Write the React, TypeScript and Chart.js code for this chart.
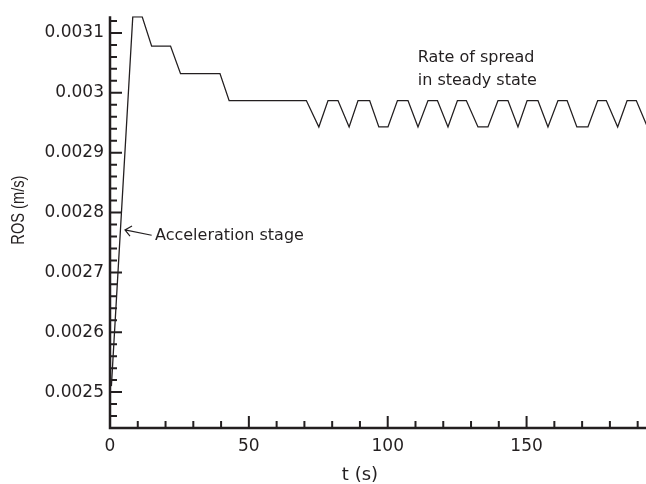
import React, { useEffect, useRef } from "react";
import { Chart, registerables } from "chart.js";

Chart.register(...registerables);

// ---- data ----
const timeS: number[] = [
  0.5, 8.2, 11.6, 15.0, 21.8, 25.4, 39.6, 42.9,
  70.7, 75.2, 78.5, 82.1, 86.1, 89.3, 93.5, 96.8, 100.1, 103.5,
  107.3, 110.9, 114.5, 117.9, 121.7, 125.1, 128.3, 132.5, 136.1, 139.7,
  143.3, 146.9, 150.2, 154.1, 157.7, 161.3, 164.6, 168.1, 172.1, 175.6,
  178.7, 182.8, 186.2, 189.5, 193.5,
];
const rosMs: number[] = [
  0.00251, 0.003127, 0.003127, 0.003078, 0.003078, 0.003032, 0.003032, 0.002987,
  0.002987, 0.002943, 0.002987, 0.002987, 0.002943, 0.002987, 0.002987, 0.002943, 0.002943, 0.002987,
  0.002987, 0.002943, 0.002987, 0.002987, 0.002943, 0.002987, 0.002987, 0.002943, 0.002943, 0.002987,
  0.002987, 0.002943, 0.002987, 0.002987, 0.002943, 0.002987, 0.002987, 0.002943, 0.002943, 0.002987,
  0.002987, 0.002943, 0.002987, 0.002987, 0.002943,
];
const xTickValues: number[] = [0, 50, 100, 150];
const yTickValues: number[] = [0.0025, 0.0026, 0.0027, 0.0028, 0.0029, 0.003, 0.0031];
const xMinorStep = 10;
const yMinorStep = 0.00002;
const xRange = [0, 193];
const yRange = [0.00244, 0.003128];

const xTitle = "t (s)";
const yTitle = "ROS (m/s)";
const steadyLabel = ["Rate of spread", "in steady state"];
const steadyLabelPos = { t: 110.8, v: [0.0030517, 0.0030133] };
const accelLabel = "Acceleration stage";
const accelArrow = { tipT: 5.4, tipV: 0.002771, tailT: 15.0, tailV: 0.002762, textT: 16.2, textV: 0.002754 };

const INK = "#231f20";
const SANS = "'DejaVu Sans', sans-serif";

const decorPlugin = {
  id: "decor",
  afterDraw(chart: any) {
    const ctx: CanvasRenderingContext2D = chart.ctx;
    const xs = chart.scales.x;
    const ys = chart.scales.y;
    const { left, right, top, bottom } = chart.chartArea;
    ctx.save();
    ctx.strokeStyle = INK;
    ctx.fillStyle = INK;
    ctx.lineCap = "butt";

    // axis lines
    ctx.lineWidth = 2.5;
    ctx.beginPath();
    ctx.moveTo(left, top);
    ctx.lineTo(left, bottom);
    ctx.lineTo(right, bottom);
    ctx.stroke();

    // inward ticks
    ctx.lineWidth = 2;
    ctx.beginPath();
    for (let k = 0; k * xMinorStep <= xs.max; k++) {
      const v = k * xMinorStep;
      const px = xs.getPixelForValue(v);
      const len = xTickValues.includes(v) ? 12 : 7;
      ctx.moveTo(px, bottom);
      ctx.lineTo(px, bottom - len);
    }
    const kStart = Math.ceil(ys.min / yMinorStep - 1e-6);
    const kEnd = Math.floor(ys.max / yMinorStep + 1e-6);
    for (let k = kStart; k <= kEnd; k++) {
      const v = k * yMinorStep;
      const py = ys.getPixelForValue(v);
      const len = k % 5 === 0 ? 12 : 7;
      ctx.moveTo(left, py);
      ctx.lineTo(left + len, py);
    }
    ctx.stroke();

    // axis titles
    ctx.font = `18px ${SANS}`;
    ctx.textAlign = "center";
    ctx.textBaseline = "middle";
    ctx.fillText(xTitle, xs.getPixelForValue(90), 475);

    ctx.save();
    ctx.translate(19, ys.getPixelForValue(0.002804));
    ctx.rotate(-Math.PI / 2);
    ctx.font = `18px 'Liberation Sans', Arial, sans-serif`;
    const w = ctx.measureText(yTitle).width;
    ctx.scale(69 / w, 1);
    ctx.fillText(yTitle, 0, 0);
    ctx.restore();

    // steady state annotation
    ctx.font = `16px ${SANS}`;
    ctx.textAlign = "left";
    ctx.textBaseline = "alphabetic";
    steadyLabel.forEach((s, i) => {
      ctx.fillText(s, xs.getPixelForValue(steadyLabelPos.t), ys.getPixelForValue(steadyLabelPos.v[i]));
    });

    // acceleration annotation
    ctx.fillText(accelLabel, xs.getPixelForValue(accelArrow.textT), ys.getPixelForValue(accelArrow.textV));
    const tx = xs.getPixelForValue(accelArrow.tipT);
    const ty = ys.getPixelForValue(accelArrow.tipV);
    const ex = xs.getPixelForValue(accelArrow.tailT);
    const ey = ys.getPixelForValue(accelArrow.tailV);
    const ang = Math.atan2(ey - ty, ex - tx);
    ctx.lineWidth = 1.2;
    ctx.beginPath();
    ctx.moveTo(ex, ey);
    ctx.lineTo(tx, ty);
    const bl = 8;
    ctx.moveTo(tx + bl * Math.cos(ang - 0.7), ty + bl * Math.sin(ang - 0.7));
    ctx.lineTo(tx, ty);
    ctx.lineTo(tx + bl * Math.cos(ang + 0.7), ty + bl * Math.sin(ang + 0.7));
    ctx.stroke();

    ctx.restore();
  },
};

export default function App() {
  const ref = useRef<HTMLCanvasElement | null>(null);
  useEffect(() => {
    if (!ref.current) return;
    const chart = new Chart(ref.current, {
      type: "line",
      data: {
        datasets: [
          {
            data: timeS.map((t, i) => ({ x: t, y: rosMs[i] })),
            borderColor: INK,
            borderWidth: 1.3,
            pointRadius: 0,
            tension: 0,
            fill: false,
          },
        ],
      },
      options: {
        animation: false,
        responsive: false,
        devicePixelRatio: 1,
        layout: { padding: { top: 15, right: 0, left: 0, bottom: 0 } },
        plugins: { legend: { display: false }, tooltip: { enabled: false } },
        scales: {
          x: {
            type: "linear",
            min: xRange[0],
            max: xRange[1],
            grid: { display: false, drawTicks: false },
            border: { display: false },
            afterBuildTicks: (scale: any) => {
              scale.ticks = xTickValues.map((v) => ({ value: v }));
            },
            afterFit: (scale: any) => {
              scale.height = 56;
            },
            ticks: {
              autoSkip: false,
              maxRotation: 0,
              padding: 8,
              color: INK,
              font: { family: SANS, size: 17 },
              callback: (v: any) => String(v),
            },
          },
          y: {
            type: "linear",
            min: yRange[0],
            max: yRange[1],
            grid: { display: false, drawTicks: false },
            border: { display: false },
            afterBuildTicks: (scale: any) => {
              scale.ticks = yTickValues.map((v) => ({ value: v }));
            },
            afterFit: (scale: any) => {
              scale.width = 110;
            },
            ticks: {
              autoSkip: false,
              padding: 6,
              color: INK,
              font: { family: SANS, size: 17 },
              callback: (v: any) => String(parseFloat(Number(v).toFixed(5))),
            },
          },
        },
      },
      plugins: [decorPlugin],
    } as any);
    return () => chart.destroy();
  }, []);
  return (
    <div style={{ position: "absolute", left: 0, top: 0, width: 646, height: 484, background: "#fff" }}>
      <canvas ref={ref} width={646} height={484} style={{ display: "block" }} />
    </div>
  );
}
